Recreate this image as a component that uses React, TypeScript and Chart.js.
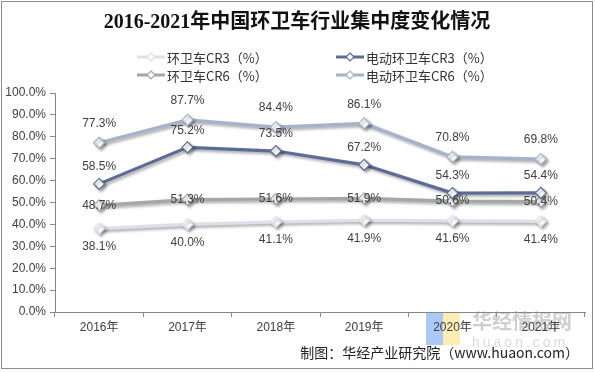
import React, { useEffect, useRef } from 'react';
import { Chart, registerables } from 'chart.js';
Chart.register(...registerables);

const categories = ['2016年', '2017年', '2018年', '2019年', '2020年', '2021年'];
const seriesNames = ['环卫车CR3（%）', '电动环卫车CR3（%）', '环卫车CR6（%）', '电动环卫车CR6（%）'];
const cr3 = [38.1, 40.0, 41.1, 41.9, 41.6, 41.4];
const evCr3 = [58.5, 75.2, 73.5, 67.2, 54.3, 54.4];
const cr6 = [48.7, 51.3, 51.6, 51.9, 50.6, 50.4];
const evCr6 = [77.3, 87.7, 84.4, 86.1, 70.8, 69.8];
const seriesValues = [cr3, evCr3, cr6, evCr6];
const colors = ['#dce0ea', '#5b6d97', '#a3a7a6', '#a6b1ca'];
const labelOffsets = [18, -17, 0, -19];
const yTicks = [0, 10, 20, 30, 40, 50, 60, 70, 80, 90, 100];
const titleText = '2016-2021年中国环卫车行业集中度变化情况';
const sourceText = '制图：华经产业研究院（www.huaon.com）';

const LABEL_FONT = '12px "Liberation Sans", Arial, sans-serif';
const CJK = '"Noto Sans CJK SC", sans-serif';

function diamond(ctx: CanvasRenderingContext2D, x: number, y: number, r: number, stroke: string) {
  ctx.beginPath();
  ctx.moveTo(x, y - r);
  ctx.lineTo(x + r, y);
  ctx.lineTo(x, y + r);
  ctx.lineTo(x - r, y);
  ctx.closePath();
  ctx.fillStyle = '#fff';
  ctx.fill();
  ctx.lineWidth = 1.2;
  ctx.strokeStyle = stroke;
  ctx.stroke();
}

const decorPlugin = {
  id: 'decor',
  beforeDraw(chart: any) {
    const ctx: CanvasRenderingContext2D = chart.ctx;
    ctx.save();
    ctx.fillStyle = '#ffffff';
    ctx.fillRect(0, 0, chart.width, chart.height);
    // watermark
    ctx.fillStyle = '#abc9f6';
    ctx.fillRect(426, 312, 17, 33);
    ctx.fillStyle = '#fbedb3';
    ctx.fillRect(443, 312, 17, 33);
    ctx.fillStyle = '#cfcfcf';
    ctx.font = 'bold 20px ' + CJK;
    ctx.textAlign = 'left';
    ctx.textBaseline = 'middle';
    ctx.fillText('华经情报网', 472, 321);
    ctx.fillStyle = '#dcdcdc';
    ctx.font = '14px "Liberation Sans", sans-serif';
    (ctx as any).letterSpacing = '3px';
    ctx.fillText('huaon.com', 472, 343);
    (ctx as any).letterSpacing = '0px';
    ctx.restore();
  },
  beforeDatasetDraw(chart: any) {
    const ctx: CanvasRenderingContext2D = chart.ctx;
    ctx.save();
    ctx.shadowColor = 'rgba(0,0,0,0.35)';
    ctx.shadowBlur = 3;
    ctx.shadowOffsetX = 2;
    ctx.shadowOffsetY = 2;
  },
  afterDatasetDraw(chart: any) {
    chart.ctx.restore();
  },
  afterDatasetsDraw(chart: any) {
    const ctx: CanvasRenderingContext2D = chart.ctx;
    ctx.save();
    ctx.font = LABEL_FONT;
    ctx.fillStyle = '#404040';
    ctx.textAlign = 'center';
    ctx.textBaseline = 'middle';
    chart.data.datasets.forEach((ds: any, i: number) => {
      const meta = chart.getDatasetMeta(i);
      meta.data.forEach((pt: any, j: number) => {
        ctx.fillText(ds.data[j].toFixed(1) + '%', pt.x, pt.y + labelOffsets[i]);
      });
    });
    ctx.restore();
  },
  afterDraw(chart: any) {
    const ctx: CanvasRenderingContext2D = chart.ctx;
    ctx.save();
    // border
    ctx.strokeStyle = '#8c8c8c';
    ctx.lineWidth = 1;
    ctx.strokeRect(1.5, 1.5, 591, 367);
    // title
    ctx.fillStyle = '#111';
    ctx.font = 'bold 20px "Liberation Serif", ' + CJK;
    ctx.textAlign = 'center';
    ctx.textBaseline = 'middle';
    ctx.fillText(titleText, 297, 23);
    // legend
    const pos = [
      [137, 57],
      [336, 57],
      [137, 75],
      [336, 75],
    ];
    ctx.font = '13px ' + CJK;
    ctx.textAlign = 'left';
    seriesNames.forEach((name, i) => {
      const [x, y] = pos[i];
      ctx.strokeStyle = colors[i];
      ctx.lineWidth = 3;
      ctx.beginPath();
      ctx.moveTo(x, y);
      ctx.lineTo(x + 28, y);
      ctx.stroke();
      diamond(ctx, x + 14, y, 4, colors[i]);
      ctx.fillStyle = '#333';
      ctx.fillText(name, x + 30, y + 1);
    });
    // source
    ctx.font = '14px ' + CJK;
    ctx.textAlign = 'right';
    ctx.fillStyle = '#222';
    ctx.fillText(sourceText, 579, 353);
    ctx.restore();
  },
};

export default function App() {
  const ref = useRef<HTMLCanvasElement>(null);
  useEffect(() => {
    document.body.style.margin = '0';
    const chart = new Chart(ref.current!, {
      type: 'line',
      data: {
        labels: categories,
        datasets: seriesValues.map((vals, i) => ({
          label: seriesNames[i],
          data: vals,
          borderColor: colors[i],
          borderWidth: 3.2,
          tension: 0,
          pointStyle: 'rectRot',
          pointRadius: 5.5,
          pointBackgroundColor: '#ffffff',
          pointBorderColor: colors[i],
          pointBorderWidth: 1.2,
          fill: false,
        })),
      },
      options: {
        responsive: false,
        animation: false,
        layout: { padding: { left: 0, right: 10, top: 93, bottom: 30 } },
        plugins: {
          legend: { display: false },
          title: { display: false },
          tooltip: { enabled: false },
        },
        scales: {
          x: {
            offset: true,
            grid: {
              offset: true,
              drawOnChartArea: false,
              drawTicks: true,
              tickLength: 5,
              color: '#868686',
            },
            border: { color: '#868686' },
            ticks: {
              color: '#404040',
              font: { family: '"Liberation Sans", "Noto Sans CJK SC", sans-serif', size: 12 },
              padding: 3,
              maxRotation: 0,
            },
            afterFit(scale: any) {
              scale.height = 30;
            },
          },
          y: {
            min: 0,
            max: 100,
            afterBuildTicks(scale: any) {
              scale.ticks = yTicks.map((v) => ({ value: v }));
            },
            grid: {
              drawOnChartArea: false,
              tickLength: 5,
              color: '#868686',
            },
            border: { color: '#868686' },
            ticks: {
              color: '#404040',
              font: { family: '"Liberation Sans", Arial, sans-serif', size: 12 },
              padding: 4,
              callback: (v: any) => Number(v).toFixed(1) + '%',
            },
            afterFit(scale: any) {
              scale.width = 55;
            },
          },
        },
      },
      plugins: [decorPlugin],
    });
    return () => chart.destroy();
  }, []);
  return (
    <div style={{ width: 595, height: 372 }}>
      <canvas ref={ref} width={595} height={372} style={{ display: 'block' }} />
    </div>
  );
}
